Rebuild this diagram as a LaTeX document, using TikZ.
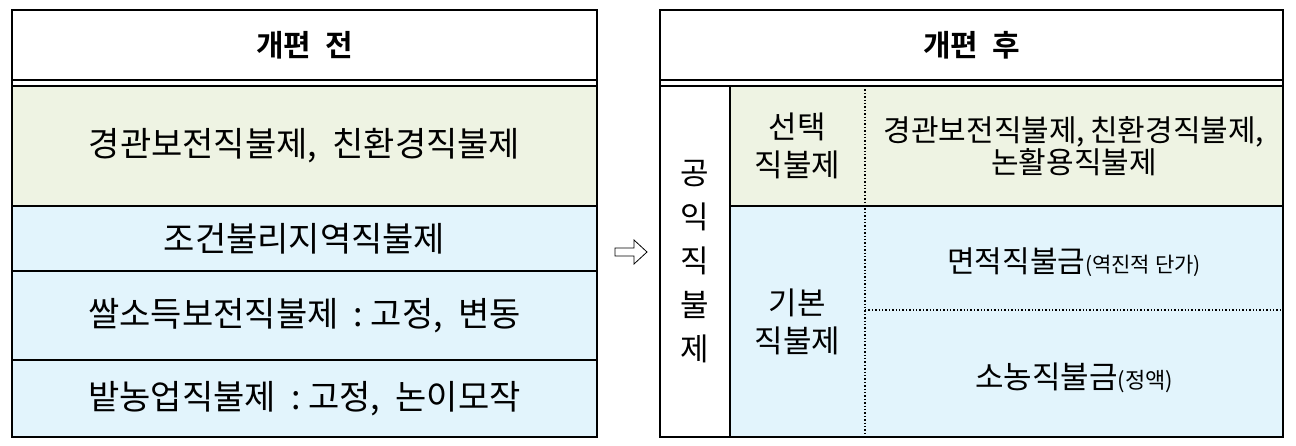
\documentclass[tikz,border=0pt]{standalone}
\usepackage{fontspec}
\setmainfont{Noto Sans CJK KR}
\newfontfamily\kb{Noto Sans CJK KR Bold}
\begin{document}
\begin{tikzpicture}[x=1pt,y=-1pt,
  lbl/.style={font=\fontsize{34}{40}\selectfont,align=center},
  hd/.style={font=\kb\fontsize{30}{34}\selectfont}]
\useasboundingbox (0,0) rectangle (1296,446);
\definecolor{gr}{HTML}{EEF3E3}
\definecolor{bl}{HTML}{E2F4FC}
% left table
\fill[gr] (12,85) rectangle (597,206);
\fill[bl] (12,206) rectangle (597,437);
\draw[line width=1.6pt] (12,10) rectangle (597,437);
\draw[line width=1.6pt] (12,80) -- (597,80) (12,86) -- (597,86);
\draw[line width=1.6pt] (12,206) -- (597,206) (12,271) -- (597,271) (12,360) -- (597,360);
\node[hd] (lh) at (304.5,45) {개편\ \ 전};
\node[lbl] (l1) at (304.5,146) {경관보전직불제,\ \ 친환경직불제};
\node[lbl] (l2) at (304.5,239) {조건불리지역직불제};
\node[lbl] (l3) at (304.5,316) {쌀소득보전직불제\ \ :\ 고정,\ \ 변동};
\node[lbl] (l4) at (304.5,399) {밭농업직불제\ \ :\ 고정,\ \ 논이모작};
% arrow
\draw[line width=0.8pt] (615,248) -- (634,248) -- (634,240) -- (647,252) -- (634,264) -- (634,256) -- (615,256) -- cycle;
% right table
\fill[gr] (730,86) rectangle (1283,206);
\fill[bl] (730,206) rectangle (1283,437);
\draw[line width=1.6pt] (660,10) rectangle (1283,437);
\draw[line width=1.6pt] (660,80) -- (1283,80) (660,86) -- (1283,86);
\draw[line width=1.6pt] (730,86) -- (730,437) (730,206) -- (1283,206);
\draw[line width=1.4pt,dotted] (865,86) -- (865,437) (865,310) -- (1283,310);
\node[hd] (rh) at (971.5,45) {개편\ \ 후};
\node[lbl,font=\fontsize{31}{44}\selectfont] (g) at (695,262) {공\\익\\직\\불\\제};
\node[lbl,font=\fontsize{31}{38}\selectfont] (s) at (797.5,146) {선택\\직불제};
\node[lbl,font=\fontsize{31}{38}\selectfont] (k) at (797.5,322) {기본\\직불제};
\node[lbl,font=\fontsize{30}{30}\selectfont] (s1) at (1074,146) {경관보전직불제,\,친환경직불제,\\논활용직불제};
\node[lbl,font=\fontsize{30}{32}\selectfont] (k1) at (1074,262) {면적직불금{\fontsize{21}{24}\selectfont(역진적\ 단가)}};
\node[lbl,font=\fontsize{31}{32}\selectfont] (k2) at (1074,378) {소농직불금{\fontsize{22}{24}\selectfont(정액)}};
\end{tikzpicture}
\end{document}
